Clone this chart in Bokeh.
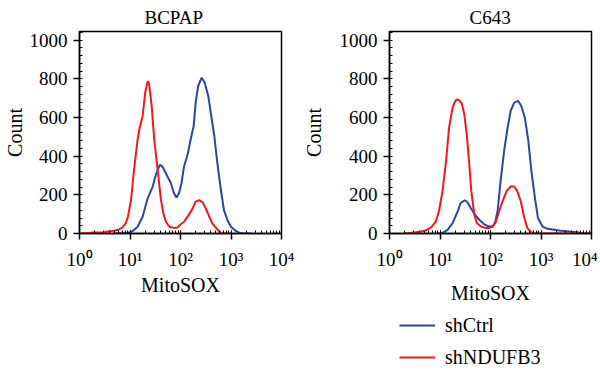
import numpy as np
from bokeh.plotting import figure
from bokeh.layouts import row, column
from bokeh.models import (Range1d, LogTicker, SingleIntervalTicker, CustomJSTickFormatter,
                          Legend, LegendItem)
from bokeh.embed import file_html
from bokeh.resources import INLINE

# ---- data (x given as log10 of MitoSOX intensity) ----
bcpap_ctrl_log = [0.69, 0.95, 1.05, 1.15, 1.25, 1.35, 1.45, 1.51, 1.59, 1.64, 1.71, 1.81, 1.87,
                  1.92, 1.97, 2.02, 2.07, 2.14, 2.20, 2.26, 2.30, 2.35, 2.42, 2.48, 2.55, 2.60,
                  2.67, 2.73, 2.80, 2.86, 2.93, 3.00, 3.10, 3.19, 3.26, 3.40]
bcpap_ctrl_count = [0, 3, 12, 35, 87, 182, 243, 303, 355, 347, 312, 260, 208,
                    187, 208, 260, 347, 407, 485, 555, 676, 763, 806, 780, 711, 624,
                    503, 364, 225, 121, 69, 35, 12, 2, 0, 0]
bcpap_kd_log = [0.02, 0.29, 0.49, 0.59, 0.69, 0.785, 0.85, 0.92, 0.96, 1.02, 1.08, 1.15, 1.19,
                1.25, 1.30, 1.35, 1.38, 1.43, 1.48, 1.53, 1.56, 1.61, 1.66, 1.71, 1.78, 1.87,
                1.94, 2.01, 2.07, 2.16, 2.24, 2.30, 2.37, 2.44, 2.50, 2.57, 2.63, 2.73, 2.80,
                2.86, 3.00]
bcpap_kd_count = [0, 5, 7, 12, 14, 21, 31, 55, 87, 173, 329, 485, 546,
                  607, 728, 788, 771, 658, 485, 370, 300, 180, 104, 61, 35, 29,
                  31, 49, 61, 95, 130, 165, 173, 161, 130, 87, 52, 21, 3,
                  0, 0]
c643_ctrl_log = [0.95, 1.05, 1.15, 1.25, 1.35, 1.41, 1.49, 1.54, 1.61, 1.69, 1.78, 1.87, 1.97,
                 2.04, 2.09, 2.14, 2.20, 2.27, 2.34, 2.40, 2.47, 2.55, 2.61, 2.68, 2.75, 2.81,
                 2.88, 2.94, 3.03, 3.13, 3.26, 3.39, 3.56, 3.72, 3.85, 4.00]
c643_ctrl_count = [0, 3, 19, 54, 115, 158, 172, 163, 132, 97, 71, 49, 36,
                   36, 54, 115, 271, 427, 549, 635, 677, 686, 660, 599, 478, 321,
                   184, 80, 36, 24, 19, 14, 10, 7, 0, 0]
c643_kd_log = [0.29, 0.49, 0.62, 0.72, 0.82, 0.92, 0.98, 1.05, 1.12, 1.18, 1.25, 1.31, 1.36,
               1.43, 1.48, 1.53, 1.58, 1.62, 1.68, 1.73, 1.81, 1.91, 1.97, 2.04, 2.11, 2.17,
               2.24, 2.32, 2.40, 2.47, 2.53, 2.60, 2.67, 2.73, 2.80, 2.86, 4.00]
c643_kd_count = [0, 5, 10, 16, 31, 63, 115, 219, 375, 549, 653, 688, 694,
                 674, 618, 514, 358, 219, 97, 54, 36, 28, 28, 36, 63, 115,
                 167, 219, 243, 243, 219, 167, 80, 28, 7, 0, 0]

titles = ["BCPAP", "C643"]
series_names = ["shCtrl", "shNDUFB3"]
x_label = "MitoSOX"
y_label = "Count"

BLUE = "#2b45a5"
RED = "#f5161c"
FONT = "Liberation Serif"

sup_js = """
const s = {'0':'\u2070','1':'\u00b9','2':'\u00b2','3':'\u00b3','4':'\u2074',
           '5':'\u2075','6':'\u2076','7':'\u2077','8':'\u2078','9':'\u2079','-':'\u207b'};
const e = Math.round(Math.log10(tick));
return '10' + String(e).split('').map(c => s[c]).join('');
"""


def make_panel(title, ctrl_log, ctrl_cnt, kd_log, kd_cnt, left, right,
               title_offset, xlabel_standoff, ylabel_standoff):
    p = figure(frame_width=202, frame_height=202, x_axis_type="log",
               x_range=Range1d(1, 10000), y_range=Range1d(0, 1045),
               output_backend="svg", toolbar_location=None,
               min_border_left=left, min_border_right=right, min_border_top=24,
               min_border_bottom=68)
    p.title.text = title
    p.title.text_font = FONT
    p.title.text_font_size = "19px"
    p.title.text_font_style = "normal"
    p.title.text_color = "black"
    p.title.align = "left"
    p.title.offset = title_offset
    p.title.standoff = 8
    p.grid.visible = False
    p.outline_line_color = "black"
    p.outline_line_width = 1.5

    for ax in (p.xaxis[0], p.yaxis[0]):
        ax.axis_line_color = "black"
        ax.axis_line_width = 1.5
        ax.major_tick_line_color = "black"
        ax.major_tick_line_width = 1.5
        ax.minor_tick_line_color = "black"
        ax.major_tick_out = 6
        ax.major_tick_in = 0
        ax.minor_tick_in = 3
        ax.minor_tick_out = 0
        ax.major_label_text_font = FONT
        ax.major_label_text_font_size = "19px"
        ax.major_label_text_color = "black"
        ax.axis_label_text_font = FONT
        ax.axis_label_text_font_size = "20px"
        ax.axis_label_text_font_style = "normal"
        ax.axis_label_text_color = "black"

    p.xaxis.ticker = LogTicker(mantissas=[1], num_minor_ticks=10, desired_num_ticks=5)
    p.xaxis.formatter = CustomJSTickFormatter(code=sup_js)
    p.xaxis.axis_label = x_label
    p.xaxis.major_label_standoff = 9
    p.xaxis.axis_label_standoff = xlabel_standoff

    p.yaxis.ticker = SingleIntervalTicker(interval=200, num_minor_ticks=5)
    p.yaxis.axis_label = y_label
    p.yaxis.major_label_standoff = 6
    p.yaxis.axis_label_standoff = ylabel_standoff

    p.line(np.power(10.0, ctrl_log), ctrl_cnt, line_color=BLUE, line_width=2)
    p.line(np.power(10.0, kd_log), kd_cnt, line_color=RED, line_width=2)
    return p


p1 = make_panel(titles[0], bcpap_ctrl_log, bcpap_ctrl_count, bcpap_kd_log, bcpap_kd_count,
                left=74, right=16, title_offset=65, xlabel_standoff=1, ylabel_standoff=1)
p2 = make_panel(titles[1], c643_ctrl_log, c643_ctrl_count, c643_kd_log, c643_kd_count,
                left=92, right=6, title_offset=80, xlabel_standoff=9, ylabel_standoff=12)

# legend strip below the panels (renderers hold no visible points; they only carry the styles)
pleg = figure(width=592, height=71, x_range=Range1d(0, 1), y_range=Range1d(0, 1),
              x_axis_location=None, y_axis_location=None, output_backend="svg",
              toolbar_location=None, min_border_left=74, min_border_right=6,
              min_border_top=0, min_border_bottom=0, outline_line_color=None)
pleg.grid.visible = False
lb = pleg.line([np.nan], [np.nan], line_color=BLUE, line_width=2)
lr = pleg.line([np.nan], [np.nan], line_color=RED, line_width=2)
lg = Legend(items=[LegendItem(label=series_names[0], renderers=[lb]),
                   LegendItem(label=series_names[1], renderers=[lr])],
            location=(325, 5), orientation="vertical", margin=0, padding=0,
            spacing=2, glyph_width=36, glyph_height=30, label_height=30,
            label_standoff=10, border_line_alpha=0, background_fill_alpha=0,
            label_text_font=FONT, label_text_font_size="20px",
            label_text_color="black")
pleg.add_layout(lg)

layout = column(row(p1, p2), pleg)
open("out.html", "w").write(file_html(layout, INLINE))
